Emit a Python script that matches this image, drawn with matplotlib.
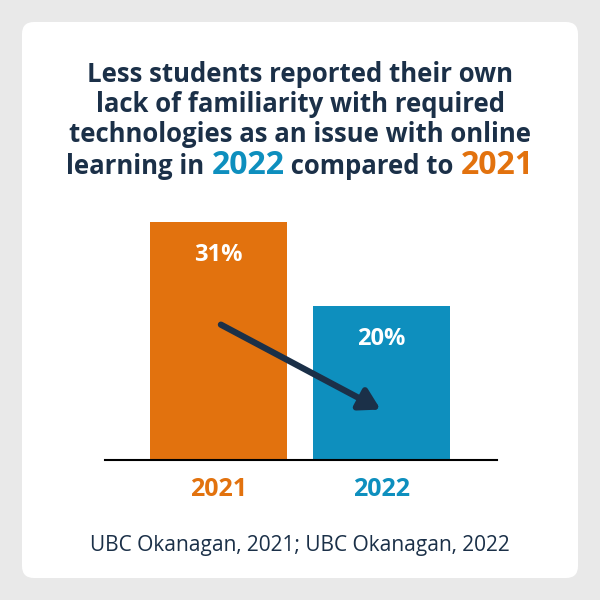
import matplotlib
matplotlib.use("Agg")
import matplotlib.pyplot as plt
from matplotlib.patches import FancyBboxPatch

years = ["2021", "2022"]
values = [31, 20]
colors = ["#E2720E", "#0E8FBE"]
navy = "#1B3048"
title_lines = ["Less students reported their own",
               "lack of familiarity with required",
               "technologies as an issue with online"]
source = "UBC Okanagan, 2021; UBC Okanagan, 2022"
FONT = "Open Sans"

fig = plt.figure(figsize=(6, 6), dpi=100, facecolor="#E9E9E9")
card = FancyBboxPatch((22/600, 22/600), 556/600, 556/600,
                      boxstyle="round,pad=0,rounding_size=0.02",
                      transform=fig.transFigure, facecolor="white",
                      edgecolor="none", zorder=-10)
fig.patches.append(card)

for i, t in enumerate(title_lines):
    fig.text(0.5, 1 - (75 + 30*i)/600, t, ha="center", va="center",
             fontsize=18.5, fontweight="bold", color=navy, family=FONT)

pieces = [("learning in ", navy, 18.5), ("2022", colors[1], 23),
          (" compared to ", navy, 18.5), ("2021", colors[0], 23)]
fig.canvas.draw()
r = fig.canvas.get_renderer()
texts, widths = [], []
for s, c, fs in pieces:
    t = fig.text(0, 1 - 174/600, s, ha="left", va="baseline", fontsize=fs,
                 fontweight="bold", color=c, family=FONT)
    texts.append(t)
    widths.append(t.get_window_extent(r).width)
x = (600 - sum(widths)) / 2
for t, w in zip(texts, widths):
    t.set_x(x/600)
    x += w

ax = fig.add_axes([105/600, 140/600, 392/600, 238/600])
ax.set_zorder(5)
ax.set_facecolor("none")
pos = [0, 1]
ax.bar(pos, values, width=0.84, color=colors)
ax.set_xlim(-0.696, 1.709)
ax.set_ylim(0, 31)
for s in ["top", "right", "left"]:
    ax.spines[s].set_visible(False)
ax.spines["bottom"].set_color("black")
ax.spines["bottom"].set_linewidth(1.5)
ax.set_yticks([])
ax.set_xticks(pos)
ax.set_xticklabels(years)
for lbl, c in zip(ax.get_xticklabels(), colors):
    lbl.set_color(c); lbl.set_fontsize(18); lbl.set_fontweight("bold"); lbl.set_family(FONT)
ax.tick_params(axis="x", length=0, pad=12)
for p, v in zip(pos, values):
    ax.text(p, v - 4.3, f"{v}%", ha="center", va="center", color="white",
            fontsize=17, fontweight="bold", family=FONT)
ax.annotate("", xy=(1.01, 6.4), xytext=(0, 17.8),
            arrowprops=dict(arrowstyle="-|>,head_length=1.2,head_width=0.7",
                            color=navy, lw=4.5))

fig.text(0.5, 1 - 545/600, source, ha="center", va="center", fontsize=15,
         color=navy, family=FONT)
fig.savefig("out.png", dpi=100, facecolor=fig.get_facecolor())
